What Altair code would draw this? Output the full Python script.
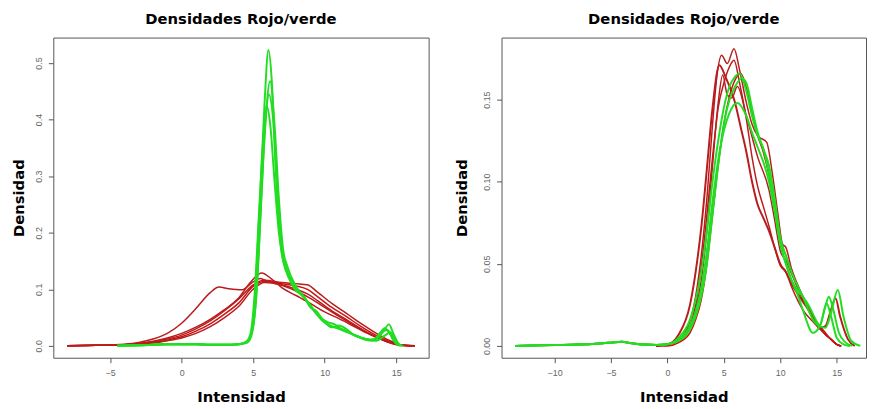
import altair as alt
import pandas as pd

# ---------------- Left panel ----------------
LR1_x = [-8, -6, -4, -3, -2, -1, 0, 1, 2, 2.6, 3.3, 4.2, 5, 5.5, 6, 7, 8, 9, 10, 11, 12, 13, 14, 15, 16.3]
LR1_y = [0, 0.001, 0.003, 0.006, 0.012, 0.022, 0.04, 0.066, 0.094, 0.104, 0.101, 0.099, 0.113, 0.119, 0.114,
         0.107, 0.097, 0.084, 0.068, 0.052, 0.037, 0.023, 0.011, 0.003, 0]

LR2_x = [-8, -6, -4, -2, -1, 0, 1, 2, 3, 4, 4.8, 5.6, 6.3, 7, 8, 9, 10, 11, 12, 13, 14, 15, 16.3]
LR2_y = [0, 0.001, 0.002, 0.008, 0.014, 0.022, 0.033, 0.047, 0.064, 0.085, 0.112, 0.129, 0.118, 0.103,
         0.089, 0.075, 0.06, 0.048, 0.035, 0.022, 0.011, 0.003, 0]

LRP_x = [-8, -6, -4, -2, -1, 0, 1, 2, 3, 4, 5, 5.8, 7, 8, 8.8, 9.5, 10.5, 11.5, 12.5, 13.5, 14.5, 15.3, 16.3]
LR3_y = [0, 0.001, 0.002, 0.007, 0.012, 0.019, 0.03, 0.044, 0.062, 0.083, 0.108, 0.116, 0.112, 0.11, 0.108,
         0.095, 0.075, 0.058, 0.04, 0.024, 0.01, 0.002, 0]
LR4_y = [0, 0.001, 0.002, 0.006, 0.01, 0.016, 0.026, 0.039, 0.056, 0.076, 0.105, 0.114, 0.11, 0.106, 0.1,
         0.087, 0.068, 0.052, 0.035, 0.02, 0.008, 0.001, 0]
LR5_y = [0, 0.001, 0.002, 0.005, 0.009, 0.014, 0.022, 0.034, 0.05, 0.07, 0.1, 0.112, 0.108, 0.1, 0.092,
         0.08, 0.062, 0.047, 0.031, 0.017, 0.006, 0.001, 0]

LG1_x = [-4.5, -3, -2, -1, 0, 1, 2, 3, 4, 4.5, 4.8, 5.0, 5.25, 5.5, 5.8, 6.07, 6.3, 6.58, 6.8, 7.0, 7.3, 7.6,
         8, 8.4, 8.7, 9.0, 9.4, 9.8, 10.3, 11, 11.5, 12, 12.5, 13, 13.5, 14, 14.5, 14.8, 15.2, 15.5]
LG1_y = [0, 0.001, 0.002, 0.003, 0.003, 0.003, 0.002, 0.002, 0.003, 0.006, 0.015, 0.045, 0.14, 0.27, 0.43,
         0.523, 0.47, 0.31, 0.22, 0.165, 0.135, 0.115, 0.097, 0.091, 0.082, 0.07, 0.058, 0.045, 0.037, 0.03,
         0.025, 0.02, 0.015, 0.011, 0.01, 0.022, 0.038, 0.022, 0.003, 0]

LG2_x = [-4.5, -3, -2, -1, 0, 1, 2, 3, 4, 4.6, 4.9, 5.2, 5.5, 5.8, 6.19, 6.5, 6.8, 7.1, 7.4, 8, 8.5, 9, 9.3,
         9.7, 10.2, 10.7, 11.2, 12, 12.7, 13.3, 13.8, 14.2, 14.6, 15, 15.4]
LG2_y = [0, 0.001, 0.002, 0.003, 0.003, 0.003, 0.002, 0.002, 0.003, 0.006, 0.02, 0.08, 0.22, 0.37, 0.468,
         0.39, 0.26, 0.17, 0.14, 0.105, 0.088, 0.072, 0.06, 0.05, 0.042, 0.038, 0.03, 0.02, 0.012, 0.009,
         0.02, 0.031, 0.02, 0.004, 0]

LG3_x = [-4.5, -3, -2, -1, 0, 1, 2, 3, 4, 4.5, 4.8, 5.1, 5.4, 5.7, 5.94, 6.2, 6.5, 6.8, 7.1, 7.5, 8, 8.6, 9,
         9.4, 10, 10.5, 11, 11.5, 12, 13, 13.6, 14.2, 14.6, 15, 15.3]
LG3_y = [0, 0.001, 0.002, 0.003, 0.003, 0.003, 0.002, 0.002, 0.003, 0.007, 0.02, 0.09, 0.23, 0.36, 0.425,
         0.39, 0.29, 0.2, 0.15, 0.12, 0.1, 0.085, 0.068, 0.062, 0.042, 0.033, 0.036, 0.03, 0.02, 0.012,
         0.009, 0.018, 0.024, 0.006, 0]

LG4_x = [-4.5, -3, -2, -1, 0, 1, 2, 3, 4, 4.6, 5.0, 5.3, 5.6, 5.9, 6.1, 6.4, 6.7, 7.0, 7.3, 7.7, 8.2, 8.8,
         9.3, 9.8, 10.4, 11, 11.6, 12.3, 13, 13.5, 14, 14.4, 14.8, 15.2]
LG4_y = [0, 0.001, 0.002, 0.003, 0.003, 0.003, 0.002, 0.002, 0.003, 0.007, 0.035, 0.12, 0.28, 0.41, 0.445,
         0.4, 0.28, 0.18, 0.14, 0.115, 0.095, 0.078, 0.062, 0.047, 0.035, 0.031, 0.025, 0.017, 0.011,
         0.012, 0.025, 0.028, 0.01, 0]

# ---------------- Right panel ----------------
RR1_x = [-1, 0, 1, 2, 2.5, 3, 3.5, 4, 4.4, 4.8, 5.3, 5.9, 6.4, 7, 7.5, 8, 8.8, 9.3, 9.8, 10.2, 10.5, 11,
         11.5, 12, 13, 14, 14.5, 15, 15.4]
RR1_y = [0, 0.001, 0.004, 0.015, 0.03, 0.055, 0.09, 0.135, 0.165, 0.177, 0.172, 0.181, 0.168, 0.148, 0.135,
         0.128, 0.124, 0.105, 0.08, 0.062, 0.06, 0.047, 0.038, 0.03, 0.016, 0.007, 0.004, 0.001, 0]

RR2_x = [-1, 0, 1, 2, 2.5, 3, 3.5, 4, 4.5, 5, 5.5, 5.9, 6.4, 7, 7.5, 8, 8.5, 9, 9.5, 10, 10.5, 11, 12, 13,
         14, 14.5, 15, 15.4]
RR2_y = [0, 0.001, 0.003, 0.012, 0.025, 0.048, 0.08, 0.115, 0.145, 0.16, 0.17, 0.174, 0.16, 0.138, 0.115,
         0.097, 0.085, 0.073, 0.06, 0.049, 0.045, 0.036, 0.022, 0.014, 0.007, 0.004, 0.001, 0]

RR3_x = [-1, 0, 1, 2, 2.5, 3, 3.5, 4, 4.5, 4.9, 5.3, 5.7, 6.2, 7, 8, 9, 9.5, 10, 10.5, 11, 12, 13, 14, 14.5,
         15, 15.4]
RR3_y = [0, 0.001, 0.003, 0.011, 0.022, 0.04, 0.07, 0.11, 0.148, 0.165, 0.153, 0.151, 0.158, 0.14, 0.115,
         0.095, 0.077, 0.058, 0.052, 0.044, 0.028, 0.016, 0.007, 0.004, 0.001, 0]

RR4_x = [-1, 0, 1, 2, 2.5, 3, 3.5, 4, 4.5, 5, 5.5, 6, 6.5, 7, 7.5, 8, 8.5, 9, 9.5, 10, 10.5, 11, 12, 13, 14,
         14.5, 15, 15.4]
RR4_y = [0, 0, 0.002, 0.008, 0.016, 0.028, 0.05, 0.08, 0.11, 0.135, 0.152, 0.162, 0.166, 0.157, 0.142,
         0.128, 0.118, 0.104, 0.085, 0.065, 0.055, 0.045, 0.03, 0.017, 0.008, 0.004, 0.001, 0]

RGB_x = [-13.5, -12, -10, -8, -6, -5, -4, -3.5, -3, -2, -1]
RGB_y = [0, 0.0002, 0.0005, 0.0008, 0.0015, 0.002, 0.0025, 0.002, 0.0015, 0.0008, 0.0005]

RG1_x = [0, 1, 2, 2.5, 3, 3.5, 4, 4.6, 5.2, 6, 6.5, 7, 7.5, 8, 8.5, 9, 9.5, 10, 10.5, 11, 12, 12.5, 13, 13.5,
         14, 14.5, 14.9, 15.3, 16, 16.6]
RG1_y = [0.001, 0.007, 0.025, 0.045, 0.072, 0.108, 0.145, 0.171, 0.163, 0.148, 0.133, 0.118, 0.1, 0.086,
         0.078, 0.07, 0.06, 0.05, 0.045, 0.038, 0.027, 0.022, 0.016, 0.011, 0.012, 0.022, 0.029, 0.018,
         0.004, 0]

RG2_x = [0, 1, 2, 2.5, 3, 3.5, 4, 4.5, 5, 5.5, 6, 6.4, 7, 7.5, 8, 8.5, 9, 9.5, 10, 10.5, 11, 11.5, 12, 12.9,
         13.5, 14, 14.3, 14.7, 15.2, 15.8, 16.4]
RG2_y = [0.001, 0.005, 0.016, 0.028, 0.045, 0.07, 0.1, 0.125, 0.145, 0.158, 0.164, 0.166, 0.155, 0.14,
         0.128, 0.12, 0.105, 0.085, 0.063, 0.05, 0.04, 0.032, 0.022, 0.008, 0.012, 0.024, 0.03, 0.022,
         0.008, 0.002, 0]

RG3_x = [0, 1, 2, 2.5, 3, 3.5, 4, 4.5, 5, 5.5, 6.2, 7, 7.5, 8, 8.5, 9, 9.5, 10, 10.5, 11, 12, 12.5, 13, 13.5,
         14, 14.5, 15.1, 15.6, 16.3, 17.1]
RG3_y = [0.001, 0.004, 0.012, 0.021, 0.035, 0.058, 0.088, 0.113, 0.131, 0.142, 0.148, 0.14, 0.13, 0.121,
         0.112, 0.1, 0.082, 0.062, 0.05, 0.04, 0.03, 0.025, 0.018, 0.012, 0.011, 0.02, 0.034, 0.018,
         0.003, 0]

RG4_x = [0, 1, 2, 2.5, 3, 3.5, 4, 4.5, 5, 5.5, 6, 6.6, 7, 7.5, 8, 8.5, 9, 9.5, 10, 10.5, 11, 12, 13, 13.5,
         14.1, 14.5, 15, 15.6, 16.2]
RG4_y = [0.001, 0.003, 0.01, 0.018, 0.03, 0.05, 0.08, 0.11, 0.135, 0.15, 0.158, 0.163, 0.16, 0.145, 0.13,
         0.12, 0.11, 0.09, 0.066, 0.055, 0.045, 0.03, 0.015, 0.012, 0.026, 0.018, 0.005, 0.001, 0]

RED_A = "#B81C1C"
RED_B = "#CC1212"
GREEN = "#22DD22"

left_curves = [
    ("LR1", LR1_x, LR1_y, RED_A), ("LR2", LR2_x, LR2_y, RED_A), ("LR3", LRP_x, LR3_y, RED_A),
    ("LR4", LRP_x, LR4_y, RED_B), ("LR5", LRP_x, LR5_y, RED_A),
    ("LG1", LG1_x, LG1_y, GREEN), ("LG2", LG2_x, LG2_y, GREEN), ("LG3", LG3_x, LG3_y, GREEN),
    ("LG4", LG4_x, LG4_y, GREEN),
]
right_curves = [
    ("RR1", RR1_x, RR1_y, RED_B), ("RR2", RR2_x, RR2_y, RED_A), ("RR3", RR3_x, RR3_y, RED_A),
    ("RR4", RR4_x, RR4_y, RED_B),
    ("RG1", RGB_x + RG1_x, RGB_y + RG1_y, GREEN), ("RG2", RGB_x + RG2_x, RGB_y + RG2_y, GREEN),
    ("RG3", RGB_x + RG3_x, RGB_y + RG3_y, GREEN), ("RG4", RGB_x + RG4_x, RGB_y + RG4_y, GREEN),
]


def frame(curves):
    rows = []
    for k, (name, xs, ys, col) in enumerate(curves):
        w = 2.0 if col == GREEN else 1.5
        for i, (a, b) in enumerate(zip(xs, ys)):
            rows.append({"curve": name, "x": a, "y": b, "i": i, "w": w})
    return pd.DataFrame(rows)


TITLE_FONT = "DejaVu Sans"
LABEL_FONT = "Liberation Sans"


def panel(curves, xdom, ydom, yvals, yfmt, width, height, ytitle_pad):
    df = frame(curves)
    names = [c[0] for c in curves]
    cols = [c[3] for c in curves]
    xaxis = alt.Axis(values=[-10, -5, 0, 5, 10, 15], domain=False, grid=False, tickSize=5,
                     tickColor="#555555", labelColor="#666666", labelFont=LABEL_FONT, labelFontSize=9,
                     labelPadding=6, labelFlush=False, title="Intensidad", titleFont=TITLE_FONT,
                     titleFontSize=15, titleFontWeight="bold", titleColor="black", titlePadding=12)
    yaxis = alt.Axis(values=yvals, format=yfmt, domain=False, grid=False, tickSize=5,
                     tickColor="#555555", labelColor="#666666", labelFont=LABEL_FONT, labelFontSize=9,
                     labelAngle=-90, labelAlign="center", labelBaseline="bottom", labelPadding=5,
                     labelFlush=False, title="Densidad", titleFont=TITLE_FONT, titleFontSize=15,
                     titleFontWeight="bold", titleColor="black", titlePadding=ytitle_pad)
    return alt.Chart(df).mark_line(interpolate="monotone", clip=True).encode(
        x=alt.X("x:Q", scale=alt.Scale(domain=xdom, nice=False, zero=False), axis=xaxis),
        y=alt.Y("y:Q", scale=alt.Scale(domain=ydom, nice=False, zero=False), axis=yaxis),
        color=alt.Color("curve:N", scale=alt.Scale(domain=names, range=cols), legend=None),
        strokeWidth=alt.StrokeWidth("w:Q", scale=None, legend=None),
        order="i:Q",
    ).properties(
        width=width, height=height,
        title=alt.TitleParams("Densidades Rojo/verde", font=TITLE_FONT, fontSize=15, fontWeight="bold",
                              color="black", frame="group", anchor="middle", offset=11),
    )


left = panel(left_curves, [-8.97, 17.27], [-0.021, 0.545], [0, 0.1, 0.2, 0.3, 0.4, 0.5], ".1f",
             381, 325, 8)
right = panel(right_curves, [-14.7, 17.6], [-0.0072, 0.1878], [0, 0.05, 0.1, 0.15], ".2f",
              370, 325, 14)

chart = alt.hconcat(left, right, spacing=24).properties(
    padding={"left": 3, "top": 0, "right": 0, "bottom": 0}
).configure(background="white").configure_view(stroke="#555555", strokeWidth=1)

chart.save("out.html", embed_options={"renderer": "svg", "actions": False})
